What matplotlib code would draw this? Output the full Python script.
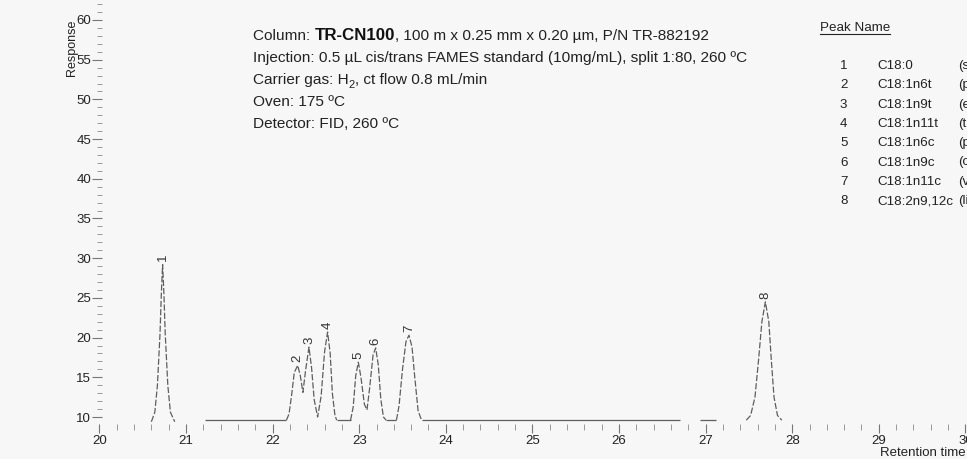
import matplotlib
matplotlib.use("Agg")
import matplotlib.pyplot as plt
from matplotlib import font_manager
from matplotlib.ticker import MultipleLocator

W, H, DPI = 967, 459, 100

names = {f.name for f in font_manager.fontManager.ttflist}
SANS = "Liberation Sans" if "Liberation Sans" in names else "DejaVu Sans"
NARROW = "Liberation Sans Narrow" if "Liberation Sans Narrow" in names else SANS

# ---------------- data ----------------
x_major = [20, 21, 22, 23, 24, 25, 26, 27, 28, 29, 30]
y_major = [10, 15, 20, 25, 30, 35, 40, 45, 50, 55, 60]

baseline_level = 9.6
baseline_start = [21.22, 22.74, 23.31, 23.72, 26.94]
baseline_end = [22.16, 22.90, 23.43, 26.70, 27.12]

peak1_t = [20.60, 20.64, 20.67, 20.70, 20.715, 20.73, 20.745, 20.76, 20.79, 20.82, 20.87]
peak1_r = [9.4, 10.6, 14.0, 20.5, 25.5, 29.2, 25.5, 20.5, 14.0, 10.6, 9.4]

clusterA_t = [22.16, 22.19, 22.22, 22.25, 22.29, 22.32, 22.35, 22.38, 22.42, 22.45, 22.48,
              22.52, 22.56, 22.60, 22.635, 22.665, 22.69, 22.72, 22.74]
clusterA_r = [9.6, 10.4, 12.8, 15.6, 16.5, 15.2, 13.1, 15.8, 18.8, 16.2, 12.2,
              10.0, 12.6, 18.2, 20.7, 18.0, 13.0, 10.2, 9.6]

clusterB_t = [22.90, 22.93, 22.96, 22.99, 23.02, 23.06, 23.09, 23.12, 23.16, 23.19, 23.22,
              23.25, 23.28, 23.31]
clusterB_r = [9.6, 11.2, 15.2, 16.9, 15.0, 11.6, 10.9, 13.6, 17.8, 18.7, 16.6,
              12.2, 10.0, 9.6]

peak7_t = [23.43, 23.46, 23.50, 23.54, 23.575, 23.61, 23.64, 23.68, 23.72]
peak7_r = [9.6, 11.4, 16.0, 19.5, 20.3, 18.8, 15.2, 10.8, 9.6]

peak8_t = [27.47, 27.52, 27.57, 27.61, 27.65, 27.69, 27.73, 27.76, 27.79, 27.83, 27.88]
peak8_r = [9.6, 10.2, 12.5, 17.0, 22.0, 24.5, 22.0, 17.0, 12.5, 10.2, 9.6]

peak_ids = ["1", "2", "3", "4", "5", "6", "7", "8"]
peak_rt = [20.73, 22.29, 22.42, 22.635, 22.99, 23.19, 23.575, 27.69]
peak_top = [29.2, 16.5, 18.8, 20.7, 16.9, 18.7, 20.3, 24.5]

peak_names = ["C18:0", "C18:1n6t", "C18:1n9t", "C18:1n11t", "C18:1n6c",
              "C18:1n9c", "C18:1n11c", "C18:2n9,12c"]
peak_common = ["(stearic)", "(petroselaidic)", "(elaidic)", "(trans-vaccenic)",
               "(petroselinic)", "(oleic)", "(vaccenic)", "(linoleic)"]

# ---------------- figure ----------------
BG = "#f7f7f7"
fig = plt.figure(figsize=(W / DPI, H / DPI), dpi=DPI, facecolor=BG)

def px2t(px):
    return 21 + (px - 186) / 86.6

def py2r(py):
    return 10 + (417 - py) / 7.94

ax_l, ax_r, ax_t, ax_b = 90, 967, 0, 424
ax = fig.add_axes([ax_l / W, 1 - ax_b / H, (ax_r - ax_l) / W, (ax_b - ax_t) / H])
ax.set_facecolor("none")
ax.set_xlim(px2t(ax_l), px2t(ax_r))
ax.set_ylim(py2r(ax_b), py2r(ax_t))
for s in ["top", "right", "bottom", "left"]:
    ax.spines[s].set_visible(False)
ax.spines["left"].set_position(("data", px2t(102)))

TRACE = "#5e5e5e"
for a, b in zip(baseline_start, baseline_end):
    ax.plot([a, b], [baseline_level, baseline_level], color=TRACE, lw=0.9, solid_capstyle="butt")
for tt, rr in [(peak1_t, peak1_r), (clusterA_t, clusterA_r), (clusterB_t, clusterB_r),
               (peak7_t, peak7_r), (peak8_t, peak8_r)]:
    ax.plot(tt, rr, color=TRACE, lw=0.9, ls=(0, (5, 1.6)))

for pid, rt, top in zip(peak_ids, peak_rt, peak_top):
    ax.text(rt, top + 0.4, pid, rotation=90, ha="center", va="bottom",
            fontsize=9.5, color="#333333", family=SANS)

ax.set_xticks(x_major)
ax.set_xticklabels([str(v) for v in x_major])
ax.set_yticks(y_major)
ax.set_yticklabels([str(v) for v in y_major])
ax.xaxis.set_minor_locator(MultipleLocator(0.2))
ax.yaxis.set_minor_locator(MultipleLocator(1))
ax.tick_params(axis="x", which="major", direction="out", length=6.5, width=0.8,
               color="#777777", pad=1.5, labelsize=9.5, labelcolor="#222222")
ax.tick_params(axis="x", which="minor", direction="out", length=4, width=0.7, color="#999999")
ax.tick_params(axis="y", which="major", direction="out", length=7, width=0.8,
               color="#777777", pad=0.8, labelsize=9.5, labelcolor="#222222")
ax.tick_params(axis="y", which="minor", direction="out", length=3.5, width=0.7, color="#999999")
for lab in ax.get_xticklabels() + ax.get_yticklabels():
    lab.set_family(SANS)

fig.text(72 / W, 1 - 48 / H, "Response", rotation=90, ha="center", va="center",
         fontsize=9, color="#222222", family=SANS)
fig.text(966 / W, 1 - 453 / H, "Retention time", ha="right", va="center",
         fontsize=9.5, color="#222222", family=SANS)

# ---------------- annotation block ----------------
fig.canvas.draw()
renderer = fig.canvas.get_renderer()

def text_width(s, **kw):
    t1 = fig.text(0, 0, s + "|", **kw)
    t2 = fig.text(0, 0, "|", **kw)
    w = t1.get_window_extent(renderer).width - t2.get_window_extent(renderer).width
    t1.remove(); t2.remove()
    return w

TXT = "#222222"
norm = dict(family=NARROW, fontsize=11.1, color=TXT)
bold = dict(family=SANS, fontsize=12.2, color="#111111", fontweight="bold")
sub = dict(family=NARROW, fontsize=8.0, color=TXT)

def runs(x_px, base_px, parts):
    x = x_px
    for s, kw, dy in parts:
        fig.text(x / W, 1 - (base_px + dy) / H, s, ha="left", va="baseline", **kw)
        x += text_width(s, **kw)

x0 = 253
bases = [40, 62, 84, 106, 128]
runs(x0, bases[0], [("Column: ", norm, 0), ("TR-CN100", bold, 0),
                    (", 100 m x 0.25 mm x 0.20 \u00b5m, P/N TR-882192", norm, 0)])
runs(x0, bases[1], [("Injection: 0.5 \u00b5L cis/trans FAMES standard (10mg/mL), split 1:80, 260 \u00baC", norm, 0)])
runs(x0, bases[2], [("Carrier gas: H", norm, 0), ("2", sub, 3.5),
                    (", ct flow 0.8 mL/min", norm, 0)])
runs(x0, bases[3], [("Oven: 175 \u00baC", norm, 0)])
runs(x0, bases[4], [("Detector: FID, 260 \u00baC", norm, 0)])

# ---------------- peak table ----------------
leg = dict(family=NARROW, fontsize=9.6, color=TXT)
fig.text(820 / W, 1 - 31 / H, "Peak Name", ha="left", va="baseline", **leg)
hw = text_width("Peak Name", **leg)
fig.add_artist(plt.Line2D([820 / W, (820 + hw) / W], [1 - 34 / H, 1 - 34 / H],
                          color=TXT, lw=0.8, transform=fig.transFigure))
row0, dy = 69, 19.3
for i, (pid, nm, cm) in enumerate(zip(peak_ids, peak_names, peak_common)):
    yb = row0 + i * dy
    fig.text(840 / W, 1 - yb / H, pid, ha="left", va="baseline", **leg)
    fig.text(877 / W, 1 - yb / H, nm, ha="left", va="baseline", **leg)
    fig.text(958 / W, 1 - yb / H, cm, ha="left", va="baseline", **leg)

fig.savefig("out.png", dpi=DPI, facecolor=BG)
